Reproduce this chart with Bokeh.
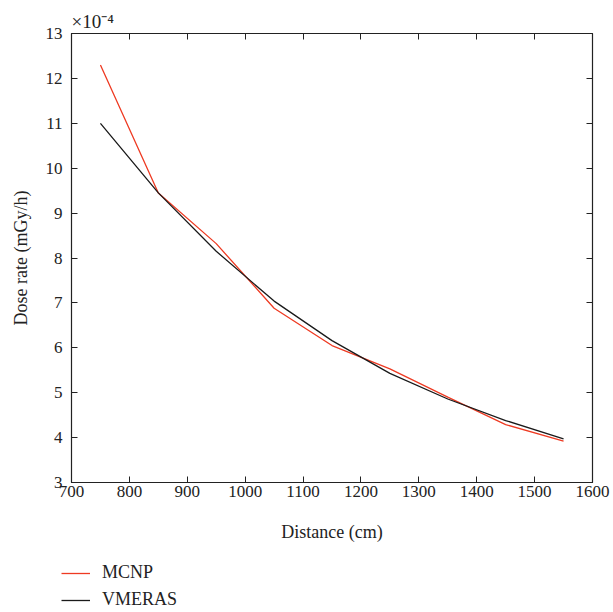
from bokeh.plotting import figure
from bokeh.layouts import column, row
from bokeh.models import LinearAxis, Legend, LegendItem, FixedTicker, Range1d
from bokeh.embed import file_html
from bokeh.resources import INLINE

distance = [750, 850, 950, 1050, 1150, 1250, 1350, 1450, 1550]
mcnp = [12.3, 9.45, 8.32, 6.88, 6.05, 5.53, 4.9, 4.29, 3.92]
vmeras = [11.0, 9.45, 8.15, 7.04, 6.16, 5.43, 4.86, 4.38, 3.97]
x_ticks = [700, 800, 900, 1000, 1100, 1200, 1300, 1400, 1500, 1600]
y_ticks = [3, 4, 5, 6, 7, 8, 9, 10, 11, 12, 13]
series_names = ["MCNP", "VMERAS"]
series_colors = ["#ee3a22", "#1a1a1a"]

FONT = "Liberation Serif"
AX = "#222222"

p = figure(width=613, height=545, output_backend="svg", toolbar_location=None,
           x_range=Range1d(700, 1600), y_range=Range1d(3, 13),
           min_border_left=71, min_border_right=21, min_border_top=33, min_border_bottom=63)
p.grid.visible = False
p.outline_line_color = AX
p.outline_line_width = 1.2
p.background_fill_color = "white"
p.border_fill_color = "white"

p.line(distance, mcnp, line_color=series_colors[0], line_width=1.3)
p.line(distance, vmeras, line_color=series_colors[1], line_width=1.3)

for ax in [p.xaxis[0], p.yaxis[0]]:
    ax.major_tick_in = 6
    ax.major_tick_out = 0
    ax.minor_tick_line_color = None
    ax.axis_line_color = AX
    ax.major_tick_line_color = AX
    ax.major_label_text_font = FONT
    ax.major_label_text_font_size = "17px"
    ax.major_label_text_color = "#222222"
    ax.axis_label_text_font = FONT
    ax.axis_label_text_font_size = "18px"
    ax.axis_label_text_font_style = "normal"
    ax.axis_label_text_color = "#222222"

p.xaxis[0].ticker = FixedTicker(ticks=x_ticks)
p.yaxis[0].ticker = FixedTicker(ticks=y_ticks)
p.xaxis[0].axis_label = "Distance (cm)"
p.yaxis[0].axis_label = "Dose rate (mGy/h)"
p.xaxis[0].major_label_standoff = 3
p.yaxis[0].major_label_standoff = 9
p.xaxis[0].axis_label_standoff = 22
p.yaxis[0].axis_label_standoff = 12

top = LinearAxis(ticker=FixedTicker(ticks=x_ticks), major_label_text_font_size="0px",
                 major_tick_in=6, major_tick_out=0, minor_tick_line_color=None,
                 major_label_standoff=0,
                 axis_line_color=None, major_tick_line_color=AX)
right = LinearAxis(ticker=FixedTicker(ticks=y_ticks), major_label_text_font_size="0px",
                   major_tick_in=6, major_tick_out=0, minor_tick_line_color=None,
                   major_label_standoff=0,
                   axis_line_color=None, major_tick_line_color=AX)
p.add_layout(top, "above")
p.add_layout(right, "right")

p.title.text = "×10⁻⁴"
p.title.text_font = FONT
p.title.text_font_size = "19px"
p.title.text_font_style = "normal"
p.title.text_color = "#222222"
p.title.align = "left"
p.title.offset = 0
p.title.standoff = 3

# legend strip below the chart
lg = figure(width=613, height=66, output_backend="svg", toolbar_location=None,
            x_range=Range1d(10000, 10001), y_range=Range1d(100, 101),
            x_axis_location=None, y_axis_location=None,
            min_border=0, min_border_left=0, min_border_right=0,
            min_border_top=0, min_border_bottom=0)
lg.grid.visible = False
lg.outline_line_color = None
rs = []
for vals, col in zip([mcnp, vmeras], series_colors):
    rs.append(lg.line(distance, vals, line_color=col, line_width=1.3))
legend = Legend(items=[LegendItem(label=n, renderers=[r]) for n, r in zip(series_names, rs)],
                location=(61, 1), orientation="vertical",
                label_text_font=FONT, label_text_font_size="18px",
                label_text_color="#222222", label_height=20, glyph_height=20,
                border_line_color=None, background_fill_alpha=0,
                glyph_width=29, label_standoff=12, spacing=6,
                margin=0, padding=0)
lg.add_layout(legend, "center")

layout = column(p, row(lg, spacing=0), spacing=0)
open("out.html", "w").write(file_html(layout, INLINE))
